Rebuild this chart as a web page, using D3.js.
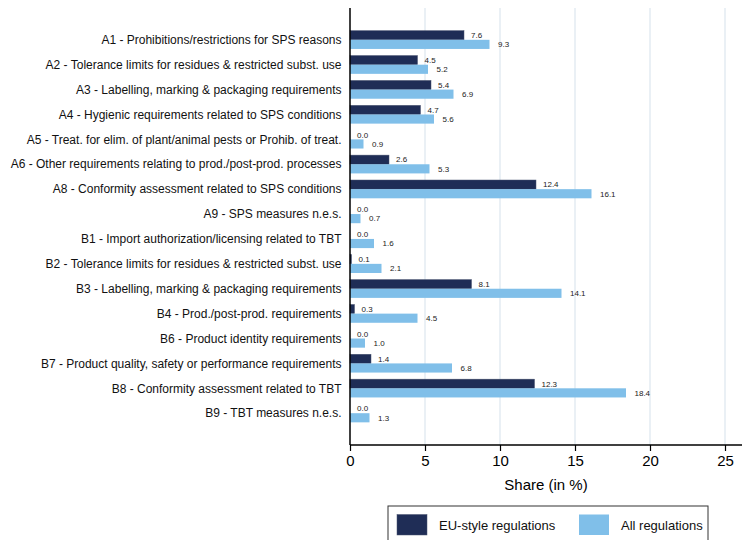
<!DOCTYPE html>
<html>
<head>
<meta charset="utf-8">
<script src="https://cdn.jsdelivr.net/npm/d3@7"></script>
<style>
  body { margin: 0; background: #fff; }
  svg { display: block; font-family: "Liberation Sans", Arial, sans-serif; }
</style>
</head>
<body>
<div id="chart"></div>
<script>
// Data
var categories = [
  "A1 - Prohibitions/restrictions for SPS reasons",
  "A2 - Tolerance limits for residues & restricted subst. use",
  "A3 - Labelling, marking & packaging requirements",
  "A4 - Hygienic requirements related to SPS conditions",
  "A5 - Treat. for elim. of plant/animal pests or Prohib. of treat.",
  "A6 - Other requirements relating to prod./post-prod. processes",
  "A8 - Conformity assessment related to SPS conditions",
  "A9 - SPS measures n.e.s.",
  "B1 - Import authorization/licensing related to TBT",
  "B2 - Tolerance limits for residues & restricted subst. use",
  "B3 - Labelling, marking & packaging requirements",
  "B4 - Prod./post-prod. requirements",
  "B6 - Product identity requirements",
  "B7 - Product quality, safety or performance requirements",
  "B8 - Conformity assessment related to TBT",
  "B9 - TBT measures n.e.s."
];
var euStyle = [7.6, 4.5, 5.4, 4.7, 0.0, 2.6, 12.4, 0.0, 0.0, 0.1, 8.1, 0.3, 0.0, 1.4, 12.3, 0.0];
var allRegs = [9.3, 5.2, 6.9, 5.6, 0.9, 5.3, 16.1, 0.7, 1.6, 2.1, 14.1, 4.5, 1.0, 6.8, 18.4, 1.3];
var seriesNames = ["EU-style regulations", "All regulations"];
var xTicks = [0, 5, 10, 15, 20, 25];

var width = 742, height = 540;
var plotLeft = 350, plotTop = 8, plotBottom = 445;

var colours = {'Navy': '#1f2d56', 'Sky': '#80bfe9'};

var svg = d3.select('#chart')
            .append('svg')
            .attr('width', width)
            .attr('height', height);

var x = d3.scaleLinear()
          .domain([0, 26.2])
          .range([plotLeft, plotLeft + 26.2 * 15]);

var y = d3.scaleBand()
          .domain(categories)
          .range([plotTop, plotBottom])
          .paddingInner(0.265)
          .paddingOuter(0.91);

var sub = d3.scaleBand()
            .domain(seriesNames)
            .range([0, y.bandwidth()]);

// vertical gridlines
svg.append('g')
   .selectAll('line')
   .data(xTicks.filter(function(d) { return d > 0; }))
   .enter()
   .append('line')
   .attr('x1', function(d) { return x(d); })
   .attr('x2', function(d) { return x(d); })
   .attr('y1', plotTop)
   .attr('y2', plotBottom)
   .attr('stroke', '#e3ebf2')
   .attr('stroke-width', 1.5);

var rows = categories.map(function(c, i) {
  return {cat: c, vals: [euStyle[i], allRegs[i]]};
});

var groups = svg.selectAll('.row')
                .data(rows)
                .enter()
                .append('g')
                .attr('class', 'row')
                .attr('transform', function(d) { return 'translate(0,' + y(d.cat) + ')'; });

var fills = [colours['Navy'], colours['Sky']];

groups.selectAll('rect')
      .data(function(d) { return d.vals; })
      .enter()
      .append('rect')
      .attr('x', x(0))
      .attr('y', function(d, i) { return sub(seriesNames[i]); })
      .attr('width', function(d) { return x(d) - x(0); })
      .attr('height', sub.bandwidth())
      .attr('fill', function(d, i) { return fills[i]; })
      .attr('stroke', function(d, i) { return i == 0 ? '#4a5570' : 'none'; })
      .attr('stroke-width', 0.5);

groups.selectAll('text.val')
      .data(function(d) { return d.vals; })
      .enter()
      .append('text')
      .attr('class', 'val')
      .attr('x', function(d) { return x(d); })
      .attr('dx', function(d, i) { return i == 0 ? 7 : 8.5; })
      .attr('y', function(d, i) { return sub(seriesNames[i]) + sub.bandwidth() / 2; })
      .attr('dy', '0.35em')
      .attr('font-size', '8px')
      .attr('fill', '#222')
      .text(function(d) { return d.toFixed(1); });

// category labels
groups.append('text')
      .attr('x', plotLeft - 8.5)
      .attr('y', y.bandwidth() / 2)
      .attr('dy', '0.35em')
      .attr('text-anchor', 'end')
      .attr('font-size', '12px')
      .attr('fill', '#111')
      .text(function(d) { return d.cat; });

// x axis
var xAxis = d3.axisBottom(x)
              .tickValues(xTicks)
              .tickSizeInner(6)
              .tickSizeOuter(0)
              .tickPadding(4);

var gx = svg.append('g')
            .attr('transform', 'translate(0,' + plotBottom + ')')
            .call(xAxis);
gx.select('.domain').attr('stroke', '#000').attr('stroke-width', 1.5)
  .attr('d', 'M' + plotLeft + ',0H' + width);
gx.selectAll('.tick line').attr('stroke', '#000').attr('stroke-width', 1.2);
gx.selectAll('.tick text')
  .attr('font-size', '15px')
  .attr('font-family', '"Liberation Sans", Arial, sans-serif')
  .attr('fill', '#000');

// y axis line
svg.append('line')
   .attr('x1', plotLeft).attr('x2', plotLeft)
   .attr('y1', plotTop).attr('y2', plotBottom)
   .attr('stroke', '#000')
   .attr('stroke-width', 1.5);

// axis title
svg.append('text')
   .attr('x', 546)
   .attr('y', 490)
   .attr('text-anchor', 'middle')
   .attr('font-size', '15px')
   .attr('fill', '#000')
   .text('Share (in %)');

// legend
var legend = svg.append('g').attr('transform', 'translate(388,506)');
legend.append('rect')
      .attr('width', 320)
      .attr('height', 50)
      .attr('fill', '#fff')
      .attr('stroke', '#333')
      .attr('stroke-width', 1);

var legendX = [9, 191];
seriesNames.forEach(function(name, i) {
  legend.append('rect')
        .attr('x', legendX[i])
        .attr('y', 8.5)
        .attr('width', 30)
        .attr('height', 20.5)
        .attr('fill', fills[i])
        .attr('stroke', i == 0 ? '#4a5570' : 'none')
        .attr('stroke-width', 0.5);
  legend.append('text')
        .attr('x', legendX[i] + 42)
        .attr('y', 19)
        .attr('dy', '0.35em')
        .attr('font-size', '13px')
        .attr('fill', '#111')
        .text(name);
});
</script>
</body>
</html>
